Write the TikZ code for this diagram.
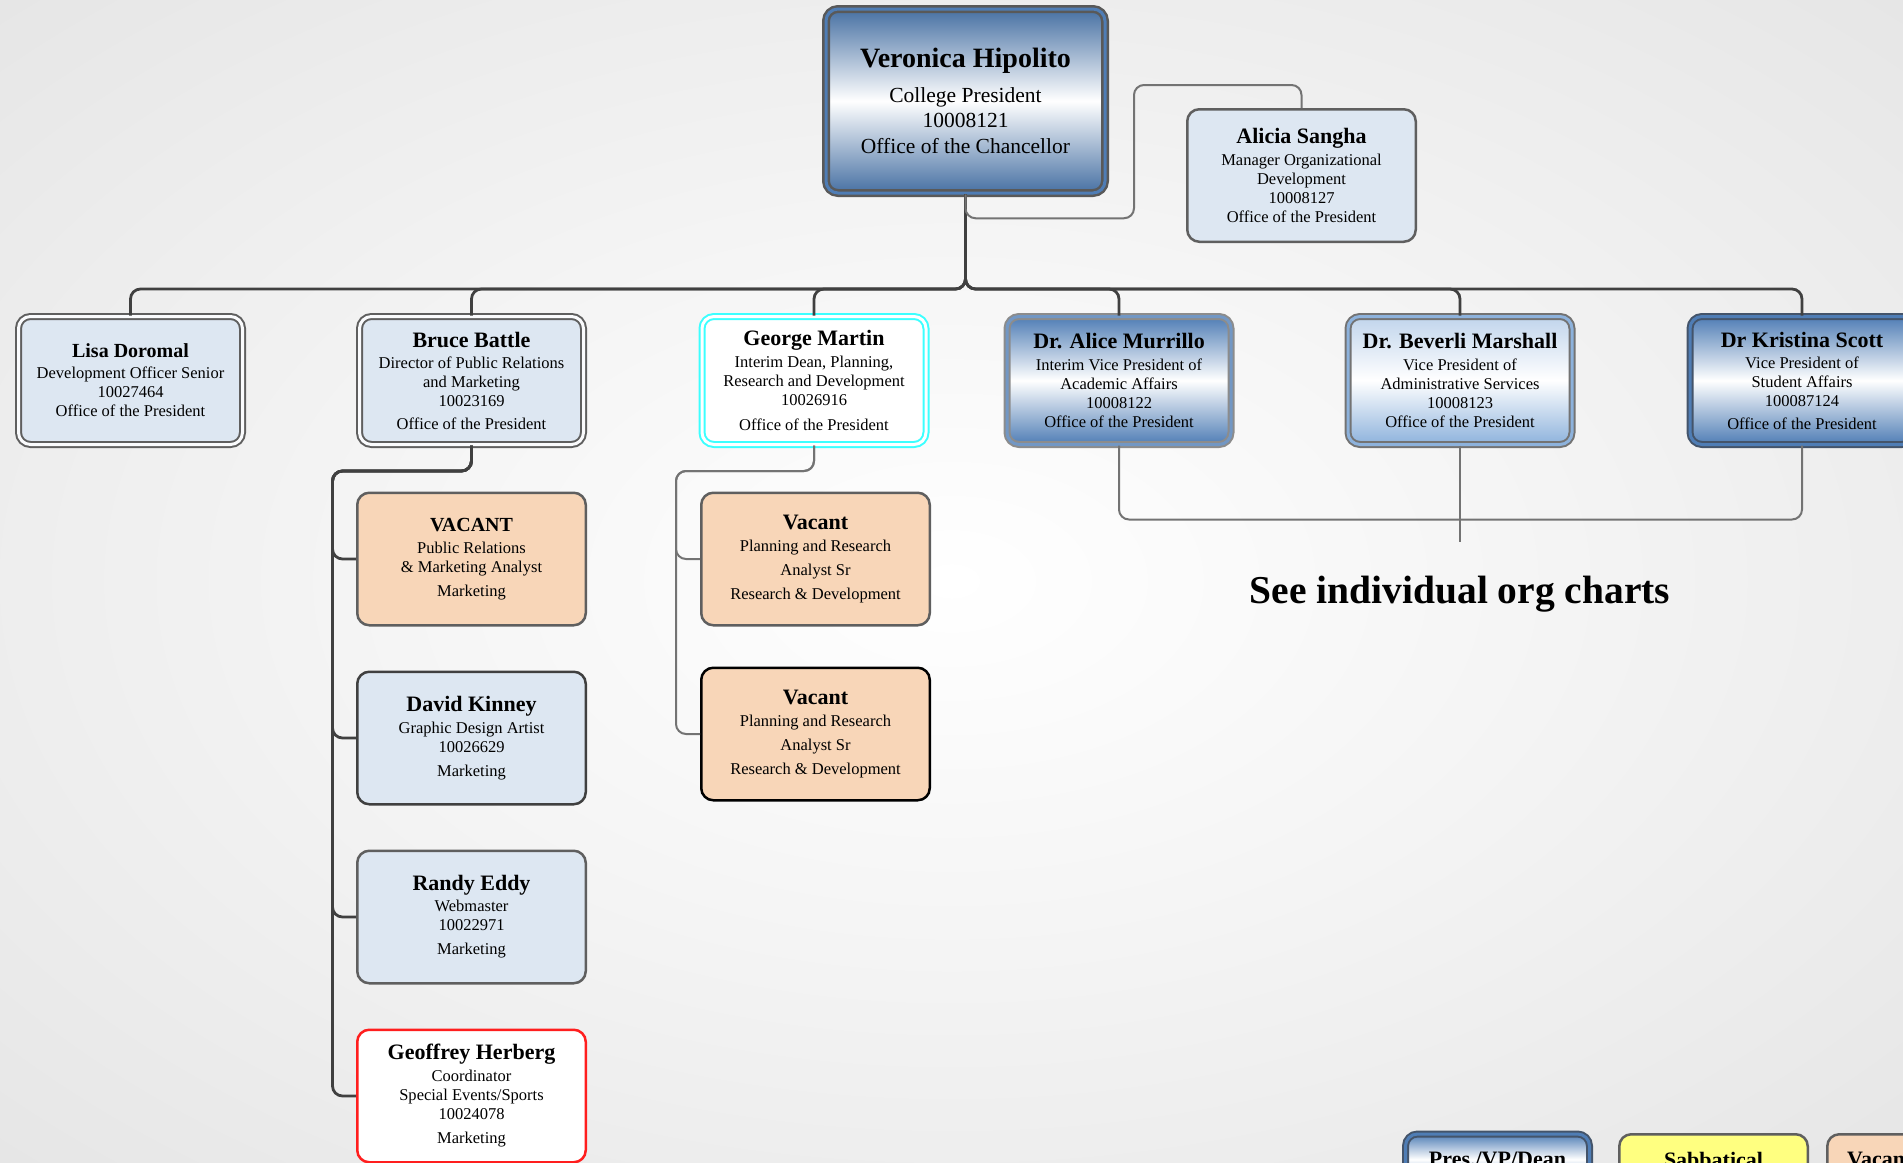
\documentclass[tikz,border=0pt]{standalone}
\usepackage{fontspec}
\setmainfont{Liberation Serif}
\usetikzlibrary{positioning}

\definecolor{paleblue}{RGB}{221,231,242}
\definecolor{peach}{RGB}{248,214,184}
\definecolor{steel}{RGB}{79,125,181}
\definecolor{slate}{RGB}{68,84,106}
\definecolor{boxgray}{RGB}{95,95,95}
\definecolor{wiredark}{RGB}{64,64,64}
\definecolor{wiregray}{RGB}{115,115,115}
\definecolor{sabyellow}{RGB}{255,255,128}
\definecolor{alertred}{RGB}{255,30,30}
\definecolor{cyanline}{RGB}{60,255,255}
\definecolor{bevblue}{RGB}{141,178,220}

\pgfdeclareradialshading{backdrop}{\pgfpoint{0bp}{0bp}}{color(0bp)=(white); color(15bp)=(black!4); color(71bp)=(black!20)}

\newcommand{\cardtext}{\fontsize{16.5}{19}\selectfont}
\newcommand{\pname}[2][22]{{\fontsize{#1}{#1}\selectfont\bfseries #2}}

\tikzstyle{card} = [rectangle, rounded corners=12pt, align=center, inner sep=2pt, font=\cardtext, draw=boxgray, line width=2.5pt, minimum width=228.5pt, minimum height=132.5pt]
\tikzstyle{cardblue} = [card, fill=paleblue]
\tikzstyle{cardpeach} = [card, fill=peach]
\tikzstyle{twin} = [line width=2pt, double distance=3pt, minimum width=224pt, minimum height=128pt]
\tikzstyle{cardtwin} = [card, twin, double=white!85!paleblue, fill=paleblue]
\tikzstyle{cardvp} = [card, twin, draw=black!50, double=steel!80, top color=steel, bottom color=steel, middle color=white]
\tikzstyle{cardchief} = [card, twin, draw=black!65, double=steel, line width=2.5pt, minimum width=279pt, minimum height=184pt, top color=steel!90!black, bottom color=steel!90!black, middle color=white, font=\fontsize{21.5}{25.5}\selectfont]
\tikzstyle{legendbox} = [rectangle, rounded corners=12pt, anchor=north, font=\fontsize{22}{24}\selectfont\bfseries, inner ysep=18pt, line width=2.5pt, draw=boxgray]
\tikzstyle{conn} = [draw=wiregray, line width=2pt, rounded corners=10pt]
\tikzstyle{connmain} = [conn, draw=wiredark, line width=2.8pt]

\begin{document}
\begin{tikzpicture}[x=1pt, y=-1pt]

\fill[shading=backdrop] (0,0) rectangle (1903,1162);
\useasboundingbox (0,0) rectangle (1903,1162);

% president and direct reports
\node (hipolito) [cardchief] at (965.5,101) {\pname[28]{Veronica Hipolito}\\[9pt] College President\\ 10008121\\ Office of the Chancellor};
\node (sangha) [cardblue] at (1301.5,175.5) {\pname{Alicia Sangha}\\[3pt] Manager Organizational\\ Development\\ 10008127\\ Office of the President};

\node (doromal) [cardtwin] at (130.5,380.5) {\pname[20]{Lisa Doromal}\\[2pt] Development Officer Senior\\ 10027464\\ Office of the President};
\node (battle) [cardtwin] at (471.5,380.5) {\pname{Bruce Battle}\\[2pt] Director of Public Relations\\ and Marketing\\ 10023169\\[4pt] Office of the President};
\node (martin) [cardtwin, draw=cyanline, double=white, fill=white] at (814,380.5) {\pname{George Martin}\\[3pt] Interim Dean, Planning,\\ Research and Development\\ 10026916\\[6pt] Office of the President};
\node (murrillo) [cardvp, draw=black!45] at (1119,380.5) {\pname{Dr. Alice Murrillo}\\[3pt] Interim Vice President of\\ Academic Affairs\\ 10008122\\ Office of the President};
\node (marshall) [cardvp, draw=black!55, double=bevblue, top color=bevblue!55, bottom color=bevblue, middle color=white] at (1460,380.5) {\pname{Dr. Beverli Marshall}\\[3pt] Vice President of\\ Administrative Services\\ 10008123\\ Office of the President};
\node (scott) [cardvp, draw=slate, double=steel] at (1802,380.5) {\pname{Dr Kristina Scott}\\[2pt] Vice President of\\ Student Affairs\\ 100087124\\[4pt] Office of the President};

% marketing
\node (vacantpr) [cardpeach] at (471.5,559) {\pname[20]{VACANT}\\[3pt] Public Relations\\ \& Marketing Analyst\\[5pt] Marketing};
\node (kinney) [cardblue, draw=wiredark, below=44pt of vacantpr] {\pname{David Kinney}\\[3pt] Graphic Design Artist\\ 10026629\\[5pt] Marketing};
\node (eddy) [cardblue, below=44pt of kinney] {\pname{Randy Eddy}\\[2pt] Webmaster\\ 10022971\\[5pt] Marketing};
\node (herberg) [card, fill=white, draw=alertred, below=44pt of eddy] {\pname{Geoffrey Herberg}\\[3pt] Coordinator\\ Special Events/Sports\\ 10024078\\[5pt] Marketing};

% research & development
\node (vacantrd) [cardpeach] at (815.5,559) {\pname{Vacant}\\[3pt] Planning and Research\\[5pt] Analyst Sr\\[5pt] Research \& Development};
\node (vacantrdb) [cardpeach, draw=black, below=40pt of vacantrd] {\pname{Vacant}\\[3pt] Planning and Research\\[5pt] Analyst Sr\\[5pt] Research \& Development};

\node (seeall) [font=\fontsize{39.5}{41}\selectfont\bfseries] at (1460,594) {See individual org charts};

% legend
\node (legpres) [legendbox, twin, minimum width=184pt, minimum height=0pt, draw=slate, double=steel, top color=steel, bottom color=steel, middle color=white] at (1497.5,1133) {Pres./VP/Dean};
\node (legsab) [legendbox, fill=sabyellow, minimum width=188.5pt] at (1713.5,1133) {Sabbatical};
\node (legvac) [legendbox, fill=peach, minimum width=105pt, anchor=north west] at (1826,1133) {Vacant};

% connectors
\coordinate (bus) at (965.5,289);
\coordinate (loop) at (1134,85);
\coordinate (prrail) at (332.5,471);
\coordinate (rdrail) at (676,471);
\coordinate (seejoin) at (1460,519.5);

\foreach \c in {doromal,battle,martin,murrillo,marshall,scott}
  \draw[connmain] (hipolito.south) -- (bus) -| (\c.north);
\draw[conn] (hipolito.south) -- ([yshift=-24pt]hipolito.south) -| (loop) -| (sangha.north);

\foreach \c in {vacantpr,kinney,eddy,herberg}
  \draw[connmain] (battle.south) |- (prrail) |- (\c.west);
\foreach \c in {vacantrd,vacantrdb}
  \draw[conn] (martin.south) |- (rdrail) |- (\c.west);

\draw[conn] (murrillo.south) |- (seejoin);
\draw[conn] (scott.south) |- (seejoin);
\draw[conn] (marshall.south) -- ([yshift=-22pt]seejoin);

\end{tikzpicture}
\end{document}
